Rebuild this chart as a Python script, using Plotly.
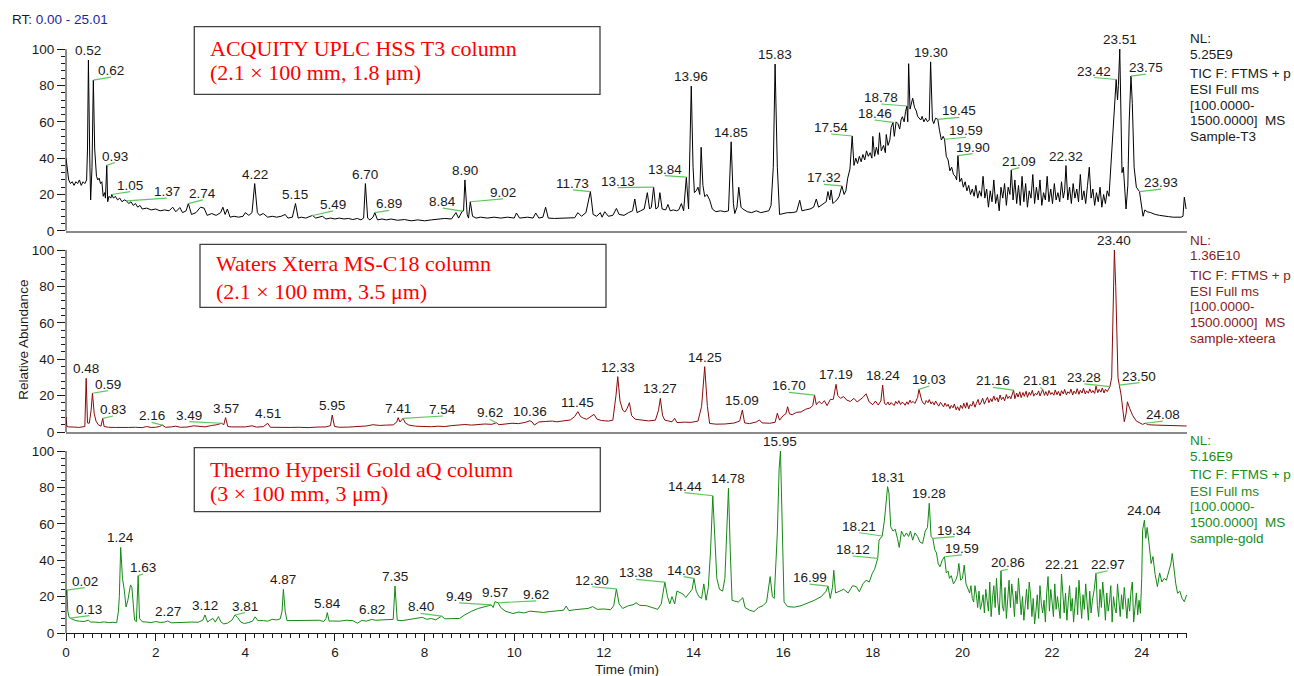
import plotly.graph_objects as go
import numpy as np

# ---------------- DATA ----------------
# (retention time [min], relative abundance [%])
t3_points = [
 (0.00,40),(0.03,33),(0.06,28),(0.10,26),(0.14,27),(0.18,25),(0.22,27),(0.26,26),(0.30,28),(0.34,25),
 (0.38,27),(0.42,26),(0.46,28),(0.48,45),(0.50,94),(0.53,40),(0.55,17),(0.58,35),(0.61,83),(0.64,45),
 (0.68,30),(0.71,28),(0.74,29),(0.77,26),(0.80,27),(0.83,19),(0.86,21),(0.88,18),(0.91,36),(0.93,16),
 (0.96,19),(1.00,18),(1.02,20),(1.06,18),(1.10,19),(1.15,17),(1.20,18),(1.25,16),(1.30,17),(1.35,16.5),
 (1.40,15),(1.45,16),(1.50,14),(1.55,15),(1.60,13),(1.65,14),(1.70,12),(1.80,12.5),(1.90,11.5),(2.00,12),
 (2.10,11),(2.20,11.5),(2.30,11),(2.38,13),(2.45,10.5),(2.54,12.8),(2.60,10),(2.68,11),(2.73,15),(2.80,9),
 (2.90,10),(3.00,13),(3.08,12.5),(3.15,8.5),(3.25,9.5),(3.35,8.5),(3.45,10),(3.50,13),(3.55,9),(3.60,12),
 (3.66,7.5),(3.75,8),(3.85,7.5),(3.95,8),(4.00,10),(4.08,8.5),(4.15,10),(4.21,26),(4.27,10),(4.32,8.5),
 (4.40,9.5),(4.50,7.5),(4.60,8),(4.70,7.5),(4.80,8),(4.89,9),(4.95,7),(5.05,7.5),(5.12,15),(5.18,7),
 (5.25,7.5),(5.35,7),(5.45,8),(5.50,8.5),(5.57,7),(5.65,7.5),(5.72,8),(5.80,6.5),(5.90,7),(6.00,6.5),
 (6.10,7),(6.20,6.5),(6.30,6.8),(6.40,6.2),(6.50,6.8),(6.58,6),(6.64,7),(6.68,26),(6.73,7),(6.78,6),
 (6.85,7.5),(6.89,10),(6.95,6),(7.05,6.5),(7.15,6),(7.25,6.5),(7.40,5.8),(7.55,6.2),(7.70,5.5),(7.85,6),
 (8.00,5.5),(8.15,6),(8.30,6.5),(8.45,6.8),(8.60,6.5),(8.70,10),(8.76,7),(8.84,10.8),(8.87,11),(8.90,28),
 (8.95,9),(8.98,7),(9.02,16),(9.07,8),(9.15,7),(9.25,7.5),(9.40,7),(9.55,7.5),(9.70,7),(9.85,7.5),
 (10.00,7),(10.05,9.8),(10.12,7),(10.30,7.5),(10.42,7),(10.48,9.8),(10.55,7),(10.64,7.5),(10.70,13),(10.76,7),
 (10.90,6.8),(11.05,7),(11.20,6.8),(11.35,7.2),(11.42,10),(11.50,8),(11.60,10),(11.70,21.6),(11.76,9),(11.84,8),
 (11.92,10),(11.96,7.5),(12.02,10.5),(12.10,8),(12.20,8.5),(12.28,12.3),(12.34,9),(12.45,8.5),(12.55,10),(12.64,11),
 (12.69,17.5),(12.74,10),(12.82,11),(12.90,12),(12.97,21),(13.02,12),(13.06,13),(13.11,24),(13.16,12),(13.21,13),
 (13.25,21),(13.30,12),(13.38,11.5),(13.43,14.5),(13.48,11),(13.55,11.5),(13.62,11),(13.67,11.5),(13.73,15),(13.78,11),
 (13.84,29.5),(13.89,12),(13.95,79.7),(13.99,35),(14.02,21),(14.06,22),(14.10,24),(14.14,20),(14.17,46),(14.21,25),
 (14.25,18.8),(14.30,20),(14.36,17),(14.42,12),(14.50,10.5),(14.60,11),(14.70,10.5),(14.78,11),(14.84,49),(14.89,15),
 (14.92,9.5),(14.97,13),(15.01,24),(15.06,13),(15.10,12),(15.20,10.5),(15.30,10),(15.40,11),(15.50,10),(15.60,10.5),
 (15.68,11),(15.73,14),(15.78,35),(15.82,91.8),(15.87,35),(15.92,9),(16.00,9.5),(16.10,10),(16.20,10),(16.30,10.5),
 (16.37,16.8),(16.42,11),(16.50,11.5),(16.60,12),(16.68,13),(16.74,17.5),(16.79,13),(16.85,14),(16.92,15),(16.96,16),
 (17.00,21.6),(17.04,17),(17.07,22.5),(17.11,15),(17.15,16),(17.20,17),(17.25,19),(17.31,24.7),(17.36,20),(17.40,22),
 (17.44,29),(17.49,34),(17.54,52.2),(17.58,36),(17.62,40),(17.66,37),(17.70,41),(17.74,38),(17.78,42),(17.82,39),
 (17.86,44),(17.90,41),(17.94,43),(17.98,40),(18.00,52),(18.04,41),(18.08,46),(18.12,42),(18.15,54),(18.19,44),
 (18.24,47),(18.28,43),(18.30,53),(18.34,47),(18.38,50),(18.41,57),(18.45,59.7),(18.48,52),(18.52,60),(18.56,59),
 (18.60,56),(18.63,61),(18.66,62.8),(18.70,60),(18.73,65.5),(18.76,68.7),(18.78,60),(18.80,92),(18.83,67),(18.86,70),
 (18.89,73),(18.93,68),(18.97,66),(19.00,63),(19.04,62),(19.07,61),(19.10,63),(19.14,60),(19.18,62),(19.22,60),
 (19.26,61),(19.29,93),(19.33,61),(19.36,59),(19.40,62),(19.45,61.4),(19.49,55),(19.53,50),(19.57,52),(19.60,50.4),
 (19.64,41),(19.68,39),(19.72,33),(19.76,35),(19.80,31),(19.84,30),(19.87,28),(19.90,41.4),(19.94,27),(19.98,29),
 (20.02,24),(20.06,27),(20.10,22),(20.14,25),(20.18,20),(20.22,23),(20.26,19),(20.30,25),(20.34,18),(20.38,22),
 (20.42,19),(20.46,30),(20.50,18),(20.54,23),(20.58,13),(20.62,22),(20.66,16),(20.70,28),(20.74,15),(20.78,20),
 (20.82,11),(20.86,24),(20.90,18),(20.94,26),(20.98,14),(21.02,24),(21.06,20),(21.09,33.5),(21.13,17),(21.17,28),
 (21.21,15),(21.25,25),(21.29,14),(21.33,30),(21.37,16),(21.41,26),(21.45,13),(21.49,22),(21.53,18),(21.57,31),
 (21.61,15),(21.65,24),(21.69,17),(21.73,28),(21.77,14),(21.81,21),(21.85,17),(21.89,30),(21.93,16),(21.97,23),
 (22.01,15),(22.05,26),(22.09,17),(22.13,21),(22.17,16),(22.21,27),(22.25,18),(22.28,22),(22.31,35.9),(22.35,17),
 (22.39,24),(22.43,15),(22.47,26),(22.51,18),(22.55,23),(22.59,16),(22.63,31),(22.67,17),(22.71,22),(22.75,15),
 (22.79,25),(22.83,35),(22.87,18),(22.91,23),(22.95,14),(22.99,21),(23.03,16),(23.07,24),(23.11,13),(23.15,20),
 (23.19,15),(23.23,22),(23.27,19),(23.31,35),(23.35,54),(23.39,70),(23.43,83.3),(23.46,72),(23.48,80),(23.51,100),
 (23.54,55),(23.56,32),(23.59,35),(23.62,20),(23.65,12),(23.69,25),(23.72,60),(23.76,85.2),(23.79,70),(23.83,35),
 (23.88,24),(23.95,21.6),(24.00,12),(24.03,8),(24.07,11.5),(24.12,10.5),(24.20,10),(24.30,9),(24.40,8.5),(24.50,8),
 (24.60,7.8),(24.70,7.5),(24.80,7.6),(24.88,7.5),(24.92,8),(24.95,18.5),(24.99,12),
]

xterra_points = [
 (0.00,8.4),(0.02,3),(0.06,2.8),(0.12,2.6),(0.20,2.7),(0.28,2.5),(0.36,2.7),(0.42,3),(0.45,29.5),(0.48,5),
 (0.52,4.8),(0.56,12),(0.59,21.3),(0.63,10),(0.67,6),(0.72,4),(0.78,3.2),(0.82,7.5),(0.85,3),(0.95,2.6),
 (1.10,2.5),(1.25,2.7),(1.40,2.5),(1.55,2.6),(1.70,2.4),(1.80,3.0),(1.90,2.5),(2.00,2.6),(2.08,3),(2.15,3.8),
 (2.22,2.6),(2.35,2.8),(2.45,3.2),(2.55,2.6),(2.70,2.7),(2.85,3.4),(2.95,3.1),(3.10,2.8),(3.25,3.6),(3.35,3.9),
 (3.47,4.8),(3.52,4.0),(3.56,7.9),(3.61,3.0),(3.70,2.8),(3.85,2.7),(4.00,2.8),(4.15,3.4),(4.25,2.7),(4.40,2.9),
 (4.50,4.8),(4.56,2.6),(4.70,2.5),(4.85,2.7),(5.00,2.5),(5.20,2.6),(5.40,2.4),(5.60,2.7),(5.80,2.8),(5.90,3.5),
 (5.94,9.3),(5.99,3.0),(6.10,2.6),(6.30,2.7),(6.50,3.0),(6.70,3.3),(6.85,4.0),(7.00,3.6),(7.15,3.8),(7.30,3.9),
 (7.38,5.5),(7.41,7.9),(7.45,5.5),(7.52,7.5),(7.57,5),(7.65,3.8),(7.80,3.2),(8.00,3),(8.15,2.9),(8.30,3.2),
 (8.45,3),(8.60,3.5),(8.75,3.7),(8.90,4.1),(9.05,3.8),(9.20,4.2),(9.35,4.4),(9.50,4.2),(9.60,5.1),(9.66,4.0),
 (9.80,4.5),(9.95,4.8),(10.10,4.6),(10.25,5.3),(10.35,6.2),(10.40,5.5),(10.45,3.8),(10.55,5.5),(10.70,5.8),(10.85,6),
 (10.95,5.6),(11.10,6.3),(11.25,6.6),(11.35,8.5),(11.42,11.2),(11.48,8.5),(11.55,7.5),(11.62,7),(11.70,8.5),(11.78,9.7),
 (11.85,7),(11.95,6.3),(12.10,6.0),(12.20,6.5),(12.27,20),(12.31,30.4),(12.36,17),(12.42,12),(12.47,11),(12.52,13),
 (12.57,16.1),(12.62,9),(12.70,7),(12.85,6.6),(13.00,6.1),(13.15,6.5),(13.22,12),(13.26,18.5),(13.31,9),(13.36,6.5),
 (13.45,5.8),(13.52,5.6),(13.58,7.5),(13.63,5.2),(13.80,5.4),(13.95,5.3),(14.10,6.0),(14.18,14),(14.25,35.9),(14.31,14),
 (14.36,4.7),(14.50,4.3),(14.70,4.4),(14.90,4.9),(15.03,6),(15.09,12.1),(15.14,5),(15.25,4.6),(15.40,5.5),(15.47,6.6),
 (15.53,5),(15.70,4.8),(15.82,5.3),(15.87,10.3),(15.92,6.5),(16.00,9),(16.06,10),(16.10,13.9),(16.14,10),(16.20,9.5),
 (16.30,10.8),(16.40,11),(16.50,12.5),(16.60,13.2),(16.66,14.5),(16.70,20.3),(16.74,15),(16.80,16.8),(16.86,15.5),(16.92,17.2),
 (16.98,14.5),(17.05,17.8),(17.12,18),(17.18,26.2),(17.22,20),(17.28,18.5),(17.35,19.5),(17.42,17.5),(17.50,16.8),(17.58,18.5),
 (17.65,16.5),(17.70,17.4),(17.78,19),(17.85,21),(17.92,16.5),(18.00,15),(18.06,17),(18.12,14.8),(18.18,17),(18.22,25.8),
 (18.26,15.7),(18.30,15),(18.34,16.5),(18.37,14.8),(18.41,16.2),(18.44,15.3),(18.48,14.6),(18.51,16.8),(18.55,15.5),(18.58,17.2),
 (18.62,15.1),(18.65,16.3),(18.69,15.8),(18.72,14.7),(18.76,16.6),(18.79,15.2),(18.83,17.5),(18.86,16),(18.90,16.8),(18.94,15.7),
 (18.97,17.8),(19.00,19),(19.03,23.4),(19.06,20),(19.09,17.5),(19.12,16),(19.16,15.2),(19.19,17.3),(19.23,16.1),(19.26,17.8),
 (19.30,15.4),(19.33,16.6),(19.37,14.9),(19.40,17),(19.44,15.6),(19.47,14.2),(19.51,16.3),(19.54,15),(19.58,13.8),(19.61,15.9),
 (19.65,14.1),(19.68,15.2),(19.72,12.8),(19.75,14.6),(19.79,13.3),(19.82,15.4),(19.86,12.2),(19.89,13.9),(19.93,11.8),(19.96,14.7),
 (20.00,12.9),(20.03,15.8),(20.07,13.1),(20.10,16.2),(20.14,12.7),(20.17,15.1),(20.21,14.3),(20.24,16.8),(20.28,13.6),(20.31,15.7),
 (20.35,17.9),(20.38,14.8),(20.42,16.4),(20.45,18.6),(20.49,15.3),(20.52,17.2),(20.56,19.1),(20.59,16.1),(20.63,18.3),(20.66,16.7),
 (20.70,19.8),(20.73,17.4),(20.77,18.9),(20.80,16.5),(20.84,20.3),(20.87,17.8),(20.91,19.2),(20.94,17.1),(20.98,20.6),(21.01,18.4),
 (21.05,19.7),(21.08,18.2),(21.11,21.2),(21.14,23),(21.17,18.3),(21.21,21.4),(21.24,19.2),(21.28,22.1),(21.31,18.9),(21.35,21.7),
 (21.38,19.6),(21.42,22.4),(21.45,19.1),(21.49,21.8),(21.52,20.2),(21.56,22.9),(21.59,19.7),(21.63,21.3),(21.66,20.4),(21.70,22.6),
 (21.73,19.8),(21.76,21.9),(21.79,23.4),(21.83,20.1),(21.86,22.2),(21.90,19.9),(21.93,22.8),(21.97,20.6),(22.00,21.7),(22.04,20.2),
 (22.07,23.1),(22.11,20.5),(22.14,22.3),(22.18,19.8),(22.21,22.7),(22.25,20.9),(22.28,23.4),(22.32,20.4),(22.35,22.1),(22.39,21.2),
 (22.42,23.6),(22.46,20.3),(22.49,22.5),(22.53,21.1),(22.56,23.8),(22.60,20.7),(22.63,22.9),(22.67,21.4),(22.70,24.1),(22.74,20.9),
 (22.77,22.6),(22.81,21.3),(22.84,23.7),(22.88,21.5),(22.91,22.8),(22.95,21.2),(22.98,25.2),(23.02,21.6),(23.05,23.4),(23.09,21.9),
 (23.12,24.2),(23.16,21.4),(23.19,23.5),(23.23,22.2),(23.26,23.9),(23.29,24.9),(23.33,30),(23.36,70),(23.39,100),(23.42,80),
 (23.44,60),(23.47,30),(23.50,25.8),(23.54,20.3),(23.58,12),(23.61,5.7),(23.65,10),(23.68,16.6),(23.73,13),(23.80,9),
 (23.88,6),(23.95,5),(24.02,4.2),(24.08,4.8),(24.15,4),(24.30,3.8),(24.50,3.7),(24.70,3.5),(24.85,3.5),(25.00,3.3),
]

gold_points = [
 (0.00,20),(0.02,23.6),(0.04,12),(0.07,8.5),(0.10,8),(0.15,7.5),(0.22,6.8),(0.30,6.5),(0.40,6.3),(0.50,7),
 (0.55,6),(0.65,6),(0.75,5.8),(0.85,6.1),(0.95,5.7),(1.05,5.9),(1.13,5.6),(1.17,12),(1.19,20),(1.22,47),
 (1.26,30),(1.30,23.6),(1.34,14.3),(1.38,18),(1.41,22.7),(1.44,26.4),(1.47,25),(1.50,16),(1.53,7),(1.57,6.2),
 (1.61,31.5),(1.64,8),(1.70,6.2),(1.80,6),(1.90,5.7),(2.00,6.3),(2.10,5.8),(2.20,6),(2.27,6.6),(2.35,5.6),
 (2.50,5.8),(2.65,5.6),(2.80,6),(2.95,5.9),(3.05,7),(3.10,9.9),(3.16,6),(3.22,7.2),(3.28,8),(3.33,6),
 (3.40,9),(3.46,6),(3.52,5),(3.60,5.4),(3.70,7),(3.77,9.9),(3.83,8.5),(3.90,6),(3.98,5.2),(4.08,5.8),
 (4.16,6.5),(4.22,8.9),(4.28,6.8),(4.40,6.8),(4.50,6.5),(4.60,7.5),(4.70,7.2),(4.78,7.8),(4.82,12),(4.85,24),
 (4.89,12),(4.93,6.8),(5.05,6.9),(5.20,7),(5.35,6.9),(5.50,7.2),(5.65,7),(5.75,6.3),(5.80,8),(5.83,11.2),
 (5.87,6.5),(5.95,6.6),(6.10,6.5),(6.25,7),(6.40,6.8),(6.50,5.4),(6.60,6.9),(6.70,6.5),(6.82,7.5),(6.90,7),
 (7.05,7.3),(7.20,7.2),(7.30,7.5),(7.34,25.8),(7.39,7),(7.50,6.8),(7.65,7.4),(7.80,7.8),(7.95,8.6),(8.05,7.5),
 (8.15,8),(8.25,7.2),(8.38,9.3),(8.45,7.8),(8.60,7.8),(8.78,8),(8.90,10),(9.05,12),(9.20,13.5),(9.35,14.5),
 (9.49,15.4),(9.53,14),(9.57,17.2),(9.64,16.6),(9.70,14),(9.80,12),(9.97,10.7),(10.10,11.5),(10.22,11),(10.35,12),
 (10.50,11.5),(10.65,11.3),(10.80,11.8),(10.95,12),(11.10,12.5),(11.16,14.8),(11.22,12.3),(11.35,12.8),(11.50,13),(11.65,13.5),
 (11.75,14.5),(11.85,13),(12.00,13.2),(12.15,12.8),(12.22,15),(12.28,24.2),(12.34,16),(12.42,13.5),(12.55,15),(12.65,15.5),
 (12.72,16.6),(12.80,15.2),(12.95,15),(13.10,14),(13.20,13),(13.28,16),(13.36,28),(13.42,20),(13.47,16),(13.52,20),
 (13.58,16),(13.63,23),(13.70,22),(13.76,21.5),(13.83,19.5),(13.90,22),(13.97,24),(14.01,30),(14.06,23),(14.12,20),
 (14.18,19),(14.23,27),(14.28,18),(14.33,25),(14.38,45),(14.43,75.4),(14.48,50),(14.52,30),(14.58,24),(14.65,23),
 (14.70,30),(14.74,55),(14.78,79.5),(14.82,45),(14.86,18),(14.92,17.5),(15.00,17),(15.10,19.4),(15.15,14),(15.25,12.5),
 (15.35,11.8),(15.45,14),(15.55,15),(15.63,17),(15.71,31),(15.76,20),(15.80,19),(15.87,55),(15.91,90),(15.94,100),
 (15.98,55),(16.02,17),(16.10,14.5),(16.25,14.2),(16.40,15),(16.55,16.5),(16.70,18),(16.85,20),(16.96,23),(17.00,25.8),
 (17.05,19),(17.10,25),(17.13,34.4),(17.17,22),(17.25,23),(17.35,24),(17.45,22),(17.55,26),(17.63,25.5),(17.70,22.7),
 (17.78,27),(17.85,29),(17.92,28),(17.99,32.8),(18.04,35),(18.08,38),(18.11,41),(18.14,51),(18.18,52),(18.21,53.3),
 (18.26,62),(18.30,72),(18.33,80.4),(18.36,77),(18.40,58.4),(18.45,56),(18.50,57),(18.55,52),(18.59,47),(18.64,56),
 (18.70,53),(18.75,55),(18.80,53),(18.84,56),(18.89,51),(18.94,55),(19.00,53),(19.05,50),(19.11,49.2),(19.17,56),
 (19.22,58),(19.26,71.3),(19.30,52.9),(19.34,52),(19.38,46),(19.42,44),(19.46,38),(19.50,36.4),(19.55,40),(19.60,41.9),
 (19.64,33),(19.68,34),(19.71,30),(19.75,31.5),(19.80,27),(19.85,29),(19.89,32),(19.92,38.2),(19.96,29),(20.00,30),
 (20.04,37.3),(20.08,27),(20.12,24),(20.16,22),(20.19,26),(20.22,19),(20.25,17),(20.28,26),(20.31,21),(20.34,14),
 (20.37,23),(20.40,13),(20.43,16),(20.46,21),(20.49,11),(20.52,24),(20.55,18),(20.58,12),(20.61,28),(20.64,9),
 (20.67,19),(20.70,26),(20.73,14),(20.76,30),(20.79,17),(20.82,10),(20.86,34.2),(20.89,15),(20.92,12),(20.95,25),
 (20.98,8),(21.01,19),(21.04,29),(21.07,14),(21.10,27),(21.13,20),(21.16,9),(21.19,23),(21.22,16),(21.25,30),
 (21.28,18),(21.31,10),(21.34,20),(21.37,7),(21.40,15),(21.43,24),(21.46,13),(21.49,28),(21.52,21),(21.55,9),
 (21.58,19),(21.61,5),(21.64,12),(21.67,21),(21.70,8),(21.73,26),(21.76,16),(21.79,11),(21.82,18),(21.85,6),
 (21.88,22),(21.91,31),(21.94,12),(21.97,24),(22.00,17),(22.03,9),(22.06,27),(22.09,13),(22.12,20),(22.15,15),
 (22.18,8),(22.21,32.4),(22.24,19),(22.27,11),(22.30,22),(22.33,7),(22.36,17),(22.39,26),(22.42,12),(22.45,19),
 (22.48,6),(22.51,14),(22.54,25),(22.57,10),(22.60,29),(22.63,18),(22.66,8),(22.69,21),(22.72,13),(22.75,27),
 (22.78,16),(22.81,7),(22.84,23),(22.87,11),(22.90,18),(22.94,24),(22.98,32.8),(23.01,15),(23.04,9),(23.07,24),
 (23.10,14),(23.13,28),(23.16,19),(23.19,7),(23.22,22),(23.25,12),(23.28,17),(23.31,26),(23.34,6),(23.37,20),
 (23.40,14),(23.43,11),(23.46,27),(23.49,18),(23.52,9),(23.55,21),(23.58,13),(23.61,25),(23.64,16),(23.67,8),
 (23.70,19),(23.73,12),(23.76,23),(23.79,28),(23.82,6),(23.85,15),(23.88,22),(23.91,10),(23.94,18),(23.97,10.8),
 (24.00,30),(24.02,56.6),(24.06,62),(24.09,52),(24.12,58),(24.16,50),(24.21,38.2),(24.25,42),(24.30,32),(24.35,25.5),
 (24.40,33),(24.45,28),(24.50,30),(24.55,29),(24.60,34),(24.65,38),(24.68,43.7),(24.72,35),(24.76,27),(24.80,21.8),
 (24.85,23),(24.90,19),(24.95,17.2),(25.00,20.9),
]

# peak labels: text and retention time of the labelled point
t3_labels = ["0.52","0.62","0.93","1.05","1.37","2.74","4.22","5.15","5.49","6.70","6.89","8.84","8.90","9.02",
             "11.73","13.13","13.84","13.96","14.85","15.83","17.32","17.54","18.46","18.78","19.30","19.45",
             "19.59","19.90","21.09","22.32","23.42","23.51","23.75","23.93"]
t3_label_rt = [0.50,0.61,0.91,1.02,1.35,2.73,4.21,5.12,5.48,6.68,6.89,8.84,8.90,9.02,11.70,13.11,13.84,13.95,
               14.84,15.82,17.31,17.54,18.45,18.76,19.29,19.45,19.60,19.90,21.09,22.31,23.43,23.51,23.76,23.95]
xterra_labels = ["0.48","0.59","0.83","2.16","3.49","3.57","4.51","5.95","7.41","7.54","9.62","10.36","11.45",
                 "12.33","13.27","14.25","15.09","16.70","17.19","18.24","19.03","21.16","21.81","23.28","23.40",
                 "23.50","24.08"]
xterra_label_rt = [0.45,0.59,0.82,2.15,3.47,3.56,4.50,5.94,7.41,7.52,9.60,10.35,11.42,12.31,13.26,14.25,15.09,
                   16.70,17.18,18.22,19.03,21.14,21.79,23.29,23.39,23.50,24.08]
gold_labels = ["0.02","0.13","1.24","1.63","2.27","3.12","3.81","4.87","5.84","6.82","7.35","8.40","9.49","9.57",
               "9.62","12.30","13.38","14.03","14.44","14.78","15.95","16.99","18.12","18.21","18.31","19.28",
               "19.34","19.59","20.86","22.21","22.97","24.04"]
gold_label_rt = [0.02,0.09,1.22,1.61,2.27,3.10,3.77,4.85,5.83,6.82,7.34,8.38,9.49,9.57,9.64,12.28,13.36,14.01,
                 14.43,14.78,15.94,17.00,18.11,18.21,18.33,19.26,19.34,19.60,20.86,22.21,22.98,24.06]

# ---------------- LAYOUT HELPERS (positions, not data) ----------------
# text anchor for labels that have a leader line: (time, abundance); None = text sits on the peak
t3_text_pos = [None,(1.00,84.6),(1.09,37.6),(1.43,21.6),(2.25,18),(3.05,17),None,None,(5.96,11),None,(7.21,11.2),
               (8.41,12.5),None,(9.75,17.6),(11.31,22.5),(12.31,23.8),(13.36,30.4),None,None,None,(16.91,25.6),
               (17.07,53.3),(18.04,61),(18.19,69.8),None,(19.93,62.5),(20.08,51.5),(20.23,42.5),(21.27,34.8),None,
               (22.94,84.4),None,(24.09,86.3),(24.43,22.9)]
xterra_text_pos = [None,(0.94,22.7),(1.05,8.8),(1.91,5.3),(2.75,5.7),None,None,None,None,(8.41,8.8),(9.45,7.0),
                   None,None,None,None,None,None,(16.13,21.8),None,None,(19.26,25.3),(20.68,24.5),(21.74,24.5),
                   (22.72,26.4),None,(23.95,27.1),(24.47,6.0)]
gold_text_pos = [(0.42,24.9),(0.52,9.5),None,(1.72,32.4),None,None,(3.99,11.2),None,None,None,None,(7.91,10.8),
                 (8.77,16.6),None,(10.49,17.7),(11.74,25.4),(12.72,29.5),(13.78,31),(13.80,77.1),None,None,
                 (16.59,26.9),(17.55,42.3),(17.70,55.1),None,None,(19.82,52.9),(19.99,42.9),(21.01,35),None,
                 (23.24,34.2),None]

W, H = 1294, 676
ML, MR, MT, MB = 66, 107, 31, 43
PW, PH = W - ML - MR, H - MT - MB


def px_x(px):
    return (px - ML) / PW


def px_y(py):
    return (H - MB - py) / PH


FONT = "Arial, 'Liberation Sans', sans-serif"
SERIF = "'Times New Roman', 'Liberation Serif', serif"
GREEN_LEAD = "#5cc85c"

panels = [
    dict(pts=t3_points, labels=t3_labels, rts=t3_label_rt, tpos=t3_text_pos, color="#000000",
         info_color="#1a1a1a", xa="x3", ya="y3", nl="5.25E9", sample="Sample-T3", nl_py=38.3,
         title=["ACQUITY UPLC HSS T3 column", "(2.1 × 100 mm, 1.8 μm)"],
         box=(194.3, 26.7, 600.0, 94.3), tx=208, ty=(48.3, 72.7)),
    dict(pts=xterra_points, labels=xterra_labels, rts=xterra_label_rt, tpos=xterra_text_pos, color="#8b0a0a",
         info_color="#8b1a1a", xa="x2", ya="y2", nl="1.36E10", sample="sample-xteera", nl_py=240.0,
         title=["Waters Xterra MS-C18 column", "(2.1 × 100 mm, 3.5 μm)"],
         box=(200.0, 244.3, 606.0, 307.3), tx=214.3, ty=(263.3, 291.7)),
    dict(pts=gold_points, labels=gold_labels, rts=gold_label_rt, tpos=gold_text_pos, color="#138a13",
         info_color="#1a8c1a", xa="x", ya="y", nl="5.16E9", sample="sample-gold", nl_py=440.0,
         title=["Thermo Hypersil Gold aQ column", "(3 × 100 mm, 3 μm)"],
         box=(194.3, 447.7, 600.3, 511.7), tx=208.3, ty=(469.0, 493.3)),
]

fig = go.Figure()
annotations = []
shapes = []
info_offsets = [0, 16, 35, 51, 66.7, 82.7, 98.4]

for p in panels:
    t = np.array([q[0] for q in p["pts"]])
    a = np.array([q[1] for q in p["pts"]])
    fig.add_trace(go.Scatter(x=t, y=a, mode="lines", xaxis=p["xa"], yaxis=p["ya"],
                             line=dict(color=p["color"], width=1), hoverinfo="skip", showlegend=False))
    lx, ly = [], []
    for lab, rt, pos in zip(p["labels"], p["rts"], p["tpos"]):
        pv = float(np.interp(rt, t, a))
        if pos is None:
            ax_, ay_, ysh = rt, pv, 0
        else:
            ax_, ay_, ysh = pos[0], pos[1], -3
            lx += [rt, pos[0], None]
            ly += [pv, pos[1], None]
        annotations.append(dict(x=ax_, y=ay_, xref=p["xa"], yref=p["ya"], text=lab, showarrow=False,
                                xanchor="center", yanchor="bottom", yshift=ysh,
                                font=dict(family=FONT, size=13.5, color="#1a1a1a")))
    fig.add_trace(go.Scatter(x=lx, y=ly, mode="lines", xaxis=p["xa"], yaxis=p["ya"],
                             line=dict(color=GREEN_LEAD, width=1.2), hoverinfo="skip", showlegend=False))
    # y axis line only from 0 to 100
    shapes.append(dict(type="line", xref="paper", yref=p["ya"], x0=0, x1=0, y0=0, y1=100,
                       line=dict(color="#1a1a1a", width=1)))
    # title box
    bx0, by0, bx1, by1 = p["box"]
    shapes.append(dict(type="rect", xref="paper", yref="paper", x0=px_x(bx0), x1=px_x(bx1),
                       y0=px_y(by1), y1=px_y(by0), line=dict(color="#404040", width=1.3)))
    for line_txt, ty in zip(p["title"], p["ty"]):
        annotations.append(dict(x=px_x(p["tx"]), y=px_y(ty), xref="paper", yref="paper", text=line_txt,
                                showarrow=False, xanchor="left", yanchor="middle",
                                font=dict(family=SERIF, size=22, color="#ff0000")))
    # right-hand info block
    info = ["NL:", p["nl"], "TIC F: FTMS + p", "ESI Full ms", "[100.0000-", "1500.0000]&nbsp; MS", p["sample"]]
    for txt, off in zip(info, info_offsets):
        annotations.append(dict(x=px_x(1188), y=px_y(p["nl_py"] + off), xref="paper", yref="paper", text=txt,
                                showarrow=False, xanchor="left", yanchor="middle",
                                font=dict(family=FONT, size=13.5, color=p["info_color"])))

annotations.append(dict(x=px_x(10), y=px_y(20), xref="paper", yref="paper", xanchor="left", yanchor="middle",
                        showarrow=False, text="RT: <span style='color:#1f1fa6'>0.00 - 25.01</span>",
                        font=dict(family=FONT, size=13.5, color="#1a1a1a")))
annotations.append(dict(x=px_x(22.7), y=px_y(340), xref="paper", yref="paper", xanchor="center",
                        yanchor="middle", showarrow=False, text="Relative Abundance", textangle=-90,
                        font=dict(family=FONT, size=13.5, color="#1a1a1a")))
annotations.append(dict(x=px_x(626.5), y=px_y(669), xref="paper", yref="paper", xanchor="center",
                        yanchor="middle", showarrow=False, text="Time (min)",
                        font=dict(family=FONT, size=13.5, color="#1a1a1a")))

ytick_vals = [0, 20, 40, 60, 80, 100]
yminor_vals = [v for v in range(4, 100, 4) if v % 20 != 0]


def yaxis(domain):
    return dict(domain=domain, range=[0, 110], showline=False, showgrid=False, zeroline=False,
                tickmode="array", tickvals=ytick_vals, ticks="outside", ticklen=8, tickwidth=1,
                tickcolor="#1a1a1a", tickfont=dict(family=FONT, size=13.5, color="#1a1a1a"),
                minor=dict(tickmode="array", tickvals=yminor_vals, ticks="outside", ticklen=4,
                           tickcolor="#1a1a1a", showgrid=False), fixedrange=True)


xr = [0, 25.01]
fig.update_layout(
    width=W, height=H, margin=dict(l=ML, r=MR, t=MT, b=MB, pad=0),
    paper_bgcolor="white", plot_bgcolor="white", showlegend=False,
    xaxis=dict(domain=[0, 1], anchor="y", range=xr, showline=True, linecolor="#1a1a1a", linewidth=1,
               showgrid=False, zeroline=False, tickmode="array", tickvals=list(range(0, 26, 2)),
               ticks="outside", ticklen=7, tickcolor="#1a1a1a",
               tickfont=dict(family=FONT, size=13.5, color="#1a1a1a"),
               minor=dict(dtick=0.2, tick0=0, ticks="outside", ticklen=4, tickcolor="#1a1a1a", showgrid=False),
               fixedrange=True),
    xaxis2=dict(domain=[0, 1], anchor="y2", range=xr, matches="x", showline=True, linecolor="#8a8a8a",
                linewidth=1.5, showgrid=False, zeroline=False, showticklabels=False, ticks=""),
    xaxis3=dict(domain=[0, 1], anchor="y3", range=xr, matches="x", showline=True, linecolor="#8a8a8a",
                linewidth=1.5, showgrid=False, zeroline=False, showticklabels=False, ticks=""),
    yaxis=yaxis([0, 200.2 / PH]),
    yaxis2=yaxis([(633 - 432) / PH, (633 - 231.8) / PH]),
    yaxis3=yaxis([(633 - 230.8) / PH, 1.0]),
    annotations=annotations, shapes=shapes,
)

fig.write_html("out.html")
